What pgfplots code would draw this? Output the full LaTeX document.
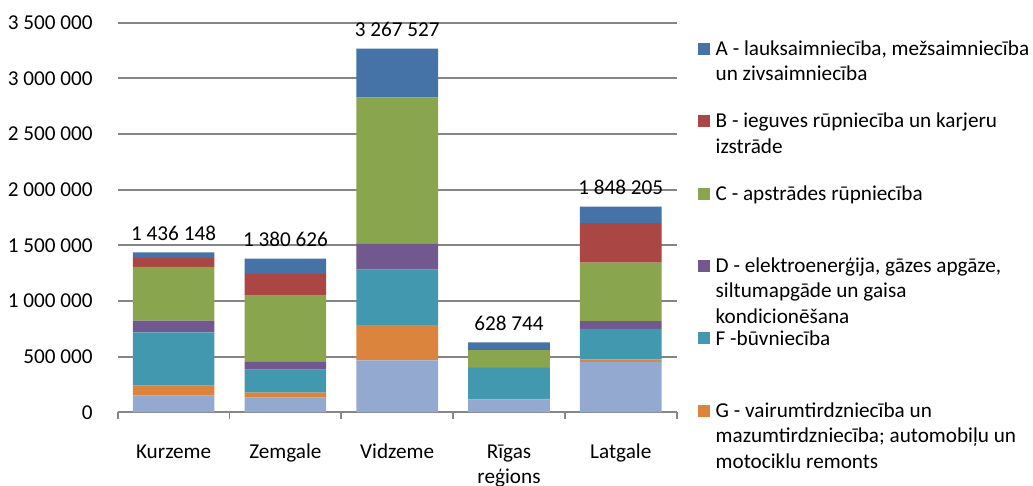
\documentclass[border=0pt]{standalone}
\usepackage{fontspec}
\setmainfont{Carlito}
\usepackage{pgfplots}
\pgfplotsset{compat=1.18}

\definecolor{cA}{HTML}{4572A7}
\definecolor{cB}{HTML}{AA4643}
\definecolor{cC}{HTML}{89A54E}
\definecolor{cD}{HTML}{71588F}
\definecolor{cF}{HTML}{4198AF}
\definecolor{cG}{HTML}{DB843D}
\definecolor{cO}{HTML}{93A9CF}
\definecolor{gridgray}{HTML}{868686}

% legend entry: first line on the row baseline, the rest hangs below
\newcommand\lgtext[1]{\smash{\begin{tabular}[t]{@{}l@{}}#1\end{tabular}}\rule[-3pt]{0pt}{10pt}}

\pgfplotsset{frame/.style={
    at={(58.85pt,36.85pt)}, anchor=south west,
    scale only axis,
    width=279.5pt, height=194.8pt,
    xmin=-0.5, xmax=4.5,
    ymin=0, ymax=3500000,
    clip=false}}

\begin{document}
\begin{tikzpicture}[font=\fontsize{10.6}{12.65}\selectfont]
\begin{axis}[
    frame,
    ybar stacked,
    bar width=0.73,
    ytick={0,500000,1000000,1500000,2000000,2500000,3000000,3500000},
    yticklabels={0, 500 000, 1 000 000, 1 500 000, 2 000 000, 2 500 000, 3 000 000, 3 500 000},
    scaled y ticks=false,
    xtick={0,1,2,3,4},
    xticklabels={\strut Kurzeme, \strut Zemgale, \strut Vidzeme, {\strut Rīgas\\reģions}, \strut Latgale},
    minor xtick={-0.5,0.5,1.5,2.5,3.5,4.5},
    major tick length=0pt,
    minor tick length=3.5pt,
    tick align=outside,
    minor x tick style={draw=gridgray, line width=0.9pt},
    axis x line*=bottom,
    axis y line*=left,
    x axis line style={draw=gridgray, line width=0.9pt, -},
    y axis line style={draw=none},
    ymajorgrids,
    major grid style={draw=gridgray, line width=0.9pt},
    x tick label style={align=center, anchor=north, inner sep=0pt, yshift=-14pt},
    y tick label style={anchor=east, inner sep=0pt, xshift=-12.35pt},
    reverse legend,
    legend image code/.code={\fill[#1] (0pt,0.35pt) rectangle (6pt,6.35pt);},
    legend style={at={(1.0381,0.952)}, anchor=north west, draw=none,
                  inner sep=0pt, outer sep=0pt, row sep=27.7pt, column sep=2.85pt,
                  nodes={inner sep=0pt}, cells={anchor=base west}},
]
% other sectors (legend entry cut off in the original)
\addplot[fill=cO, draw=none, forget plot] coordinates {
    (0,150000) (1,132000) (2,466000) (3,117000) (4,454000)};
\addplot[fill=cG, draw=none] coordinates {
    (0,90000) (1,45000) (2,316000) (3,2000) (4,21000)};
\addlegendentry{\lgtext{G - vairumtirdzniecība un\\mazumtirdzniecība; automobiļu un\\motociklu remonts}}
\addplot[fill=cF, draw=none] coordinates {
    (0,478000) (1,206000) (2,499000) (3,281000) (4,275000)};
\addlegendentry{\lgtext{F -būvniecība}}
\addplot[fill=cD, draw=none] coordinates {
    (0,105000) (1,74000) (2,236000) (3,3000) (4,68000)};
\addlegendentry{\lgtext{D - elektroenerģija, gāzes apgāze,\\siltumapgāde un gaisa\\kondicionēšana}}
\addplot[fill=cC, draw=none] coordinates {
    (0,484000) (1,592000) (2,1312000) (3,156000) (4,526000)};
\addlegendentry{\lgtext{C - apstrādes rūpniecība}}
\addplot[fill=cB, draw=none] coordinates {
    (0,77000) (1,195000) (2,3000) (3,1000) (4,356000)};
\addlegendentry{\lgtext{B - ieguves rūpniecība un karjeru\\izstrāde}}
\addplot[fill=cA, draw=none] coordinates {
    (0,52148) (1,136626) (2,435527) (3,68744) (4,148205)};
\addlegendentry{\lgtext{A - lauksaimniecība, mežsaimniecība\\un zivsaimniecība}}
\end{axis}
% totals above the bars, on an overlaid axis with the same frame
\begin{axis}[frame, hide axis]
\addplot[draw=none, mark=none,
    point meta=explicit symbolic,
    nodes near coords,
    every node near coord/.append style={anchor=base, inner sep=0pt, yshift=6pt, text=black}]
    coordinates {
    (0,1436148)[1 436 148] (1,1380626)[1 380 626] (2,3267527)[3 267 527]
    (3,628744)[628 744] (4,1848205)[1 848 205]};
\end{axis}
\pgfresetboundingbox
\path[use as bounding box] (0,0) rectangle (516.5pt,243pt);
\end{tikzpicture}
\end{document}
